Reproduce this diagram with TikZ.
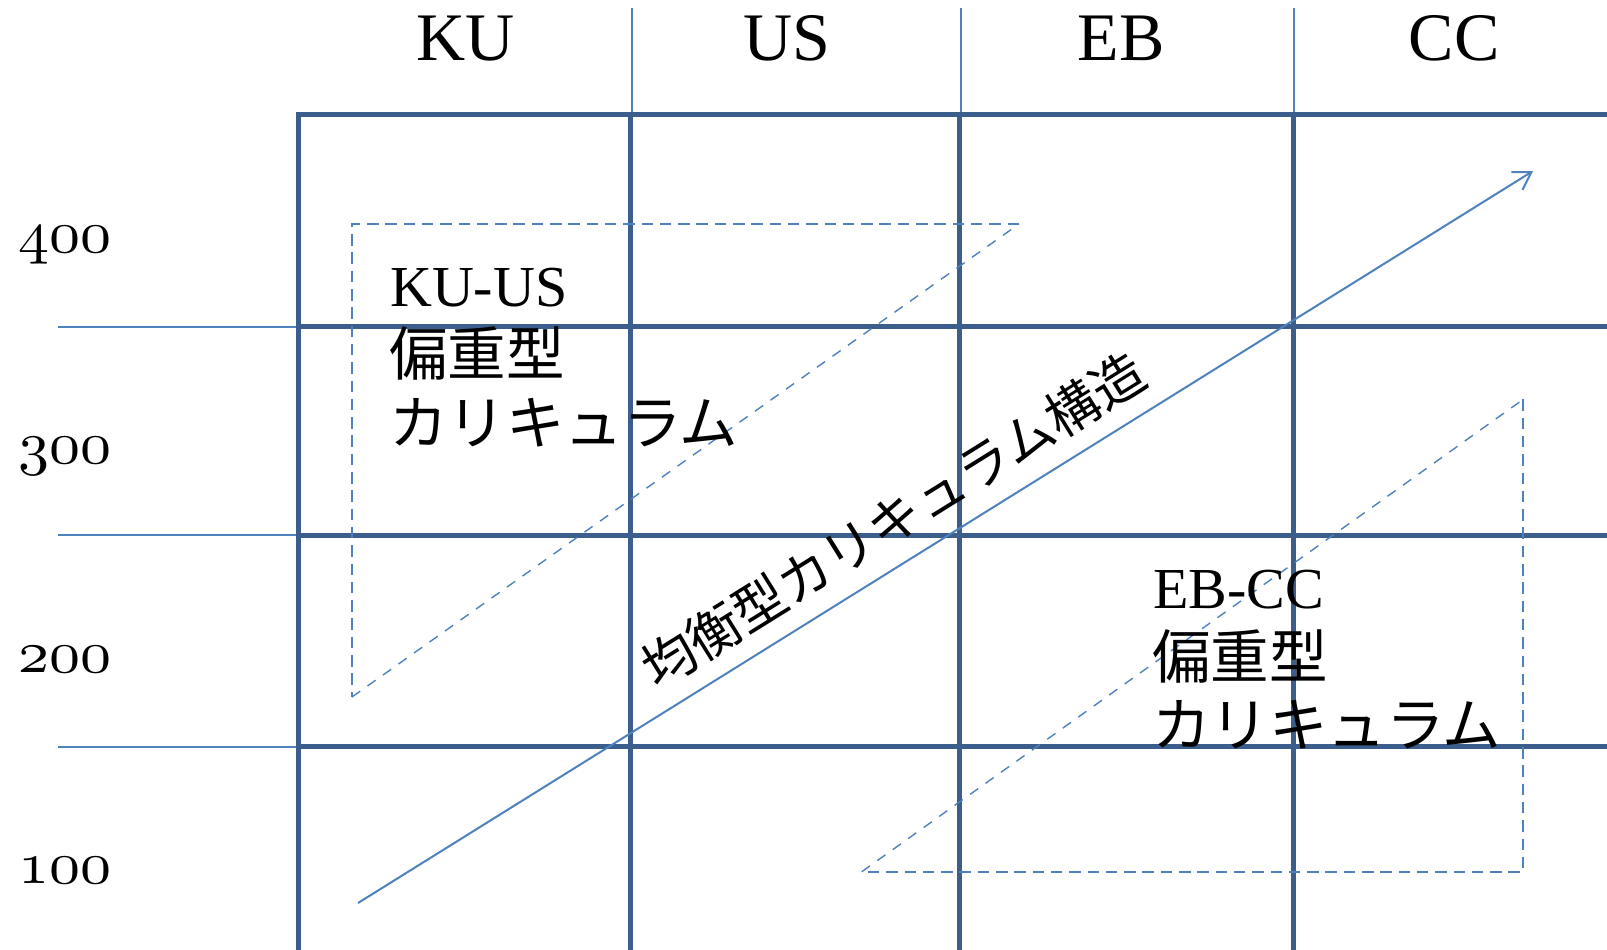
\documentclass[tikz,border=0pt]{standalone}
\usepackage{fontspec}
\setmainfont{Liberation Serif}
\newfontfamily\jp{Noto Sans CJK JP}
\usetikzlibrary{arrows.meta}
\definecolor{gridblue}{HTML}{3B5E8C}
\definecolor{lineblue}{HTML}{4F81BD}
\newcommand{\osnum}[1]{\scalebox{6.2}[6]{\fontsize{10}{10}\usefont{OML}{cmm}{m}{it}#1}}
\begin{document}
\begin{tikzpicture}[x=1pt,y=-1pt,
  thickgrid/.style={draw=gridblue, line width=5pt},
  thingrid/.style={draw=lineblue, line width=2pt},
  dashtri/.style={draw=lineblue, line width=2pt, dash pattern=on 11.5pt off 6.8pt},
  dashdiag/.style={draw=lineblue, line width=1.4pt, dash pattern=on 10pt off 9pt},
  arrowline/.style={draw=lineblue, line width=2pt, -{Straight Barb[length=17pt,width=21pt]}},
  header/.style={font=\fontsize{68}{68}\selectfont, inner sep=0pt, anchor=base},
  rowlabel/.style={inner sep=0pt, anchor=base west},
  blocklat/.style={font=\fontsize{58}{58}\selectfont, inner sep=0pt, anchor=base west},
  blockjp/.style={font=\fontsize{58.5}{58.5}\selectfont\jp, inner sep=0pt, anchor=base west},
  diaglabel/.style={font=\fontsize{53}{53}\selectfont\jp, inner sep=0pt, rotate=31.9}
]
\useasboundingbox (0,0) rectangle (1607,950);
% thin header separators
\foreach \x in {632,961,1294} \draw[thingrid] (\x,8) -- (\x,114);
% thin row separators on the left
\foreach \y in {326.7,535,746.7} \draw[thingrid] (57.7,\y) -- (298,\y);
% thick grid
\draw[thickgrid] (298,950) -- (298,114) -- (1607,114);
\foreach \y in {326.7,535,746.7} \draw[thickgrid] (298,\y) -- (1607,\y);
\foreach \x in {630.6,959.6,1293} \draw[thickgrid] (\x,114) -- (\x,950);
% headers
\node[header] (hKU) at (466,60) {KU};
\node[header] (hUS) at (787,60) {US};
\node[header] (hEB) at (1121,60) {EB};
\node[header] (hCC) at (1454,60) {CC};
% row labels
\node[rowlabel] (r400) at (18,252.7) {\osnum{400}};
\node[rowlabel] (r300) at (18,463.4) {\osnum{300}};
\node[rowlabel] (r200) at (18,672) {\osnum{200}};
\node[rowlabel] (r100) at (18,883) {\osnum{100}};
% dashed triangles
\coordinate (t1a) at (352,224);
\coordinate (t1b) at (1019,224);
\coordinate (t1c) at (352,697);
\draw[dashtri] (t1b) -- (t1a) -- (t1c);
\draw[dashdiag] (t1c) -- (t1b);
\coordinate (t2a) at (1523.3,399.3);
\coordinate (t2b) at (1523.3,871.7);
\coordinate (t2c) at (861.8,871.7);
\draw[dashtri] (t2a) -- (t2b) -- (t2c);
\draw[dashdiag] (t2c) -- (t2a);
% block texts
\node[blocklat] (kuus1) at (390,306) {KU-US};
\node[blockjp] (kuus2) at (389,375) {偏重型};
\node[blockjp] (kuus3) at (389,444) {カリキュラム};
\node[blocklat] (ebcc1) at (1153,608) {EB-CC};
\node[blockjp] (ebcc2) at (1152,678) {偏重型};
\node[blockjp] (ebcc3) at (1152,746) {カリキュラム};
% main arrow
\coordinate (as) at (358,903);
\coordinate (ae) at (1533,171);
\draw[arrowline] (as) -- (ae);
\node[diaglabel] (diag) at (893.5,520) {均衡型カリキュラム構造};
\end{tikzpicture}
\end{document}
